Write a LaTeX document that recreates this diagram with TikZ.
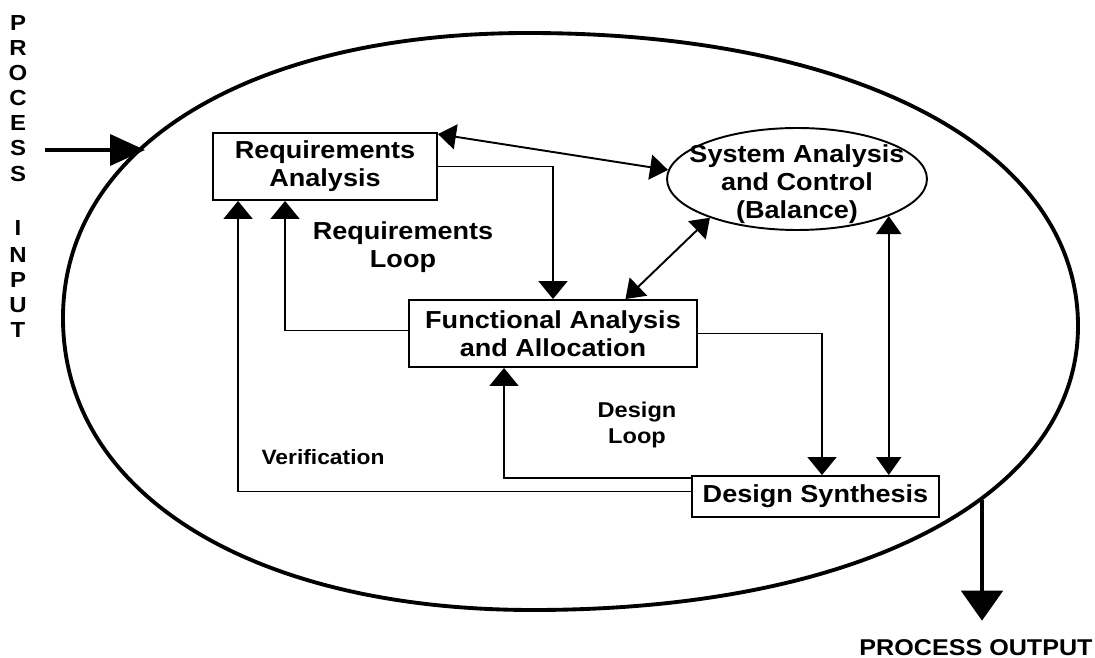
\documentclass[tikz,border=0pt]{standalone}
\usepackage{fontspec}
\setmainfont{Liberation Sans}[FakeStretch=1.1]
\usetikzlibrary{calc, positioning, shapes.geometric, arrows.meta}

\begin{document}
\begin{tikzpicture}[x=0.02cm, y=-0.02cm,
  box/.style={draw, line width=1.1pt, inner sep=0pt, align=center,
    font=\fontsize{14}{16}\selectfont\bfseries},
  lbl/.style={align=center, font=\fontsize{14}{16}\selectfont\bfseries},
  arr/.style={line width=1.1pt, -{Triangle[length=0.36cm,width=0.58cm]}},
  dbl/.style={line width=1.1pt,
    {Triangle[length=0.36cm,width=0.5cm]}-{Triangle[length=0.36cm,width=0.5cm]}}]
\useasboundingbox (0,0) rectangle (1095,658);

% outer process boundary
\draw[line width=2.2pt] (63,318) .. controls (63,147) and (249,33) .. (528,33)
  .. controls (858,33) and (1078,150) .. (1078,326)
  .. controls (1078,496) and (860,610) .. (533,610)
  .. controls (251,610) and (63,493) .. cycle;

\node[box, minimum width=4.48cm, minimum height=1.34cm] (req) at (325,166.5) {Requirements\\Analysis};
\node[box, minimum width=5.76cm, minimum height=1.34cm] (func) at (553,333.5) {Functional Analysis\\and Allocation};
\node[box, minimum width=4.94cm, minimum height=0.82cm] (syn) at (815.5,496.5) {Design Synthesis};
\node[draw, ellipse, line width=1.1pt, minimum width=5.2cm, minimum height=2.04cm,
  label={[lbl, yshift=-0.1cm]center:{System Analysis\\and Control\\(Balance)}}] (sac) at (797,179) {};

\node[lbl] (reqloop) at (403,247) {Requirements\\Loop};
\node[lbl, font=\fontsize{12.2}{15}\selectfont\bfseries] (desloop) at (637,425) {Design\\Loop};
\node[lbl, font=\fontsize{11.8}{15}\selectfont\bfseries] (verif) at (323,457) {Verification};

% loops
\draw[arr] (req.east) -| (func.north);
\draw[arr] ([yshift=0.06cm]func.west) -| ([xshift=1.46cm]req.south west);
\draw[arr] (func.east) -| ([xshift=0.13cm]syn.north);
\draw[arr] ([yshift=-0.05cm]syn.north west) -| ([xshift=-0.98cm]func.south);
\draw[arr] ([yshift=0.1cm]syn.west) -| ([xshift=0.52cm]req.south west);

% balance links
\draw[dbl] ([yshift=-0.04cm]req.north east) -- (sac.176);
\draw[dbl] (sac.204) -- ($(func.north)!0.5!(func.north east)$);
\draw[dbl] (sac.-22) -- (sac.-22 |- syn.north);

% input and output
\foreach \ch/\y [count=\i] in {P/23,R/48,O/73,C/98,E/123,S/148,S/174,I/228,N/255,P/280,U/305,T/330}
  \node[font=\fontsize{12.4}{14}\selectfont\bfseries] (in-\i) at (18,\y) {\ch};
\coordinate (inTail) at (45,150);
\coordinate (inTip) at (145,150);
\draw[line width=2.2pt, -{Triangle[length=0.7cm,width=0.62cm]}] (inTail) -- (inTip);

\node[font=\fontsize{13}{14}\selectfont\bfseries] (pout) at (976,648) {PROCESS OUTPUT};
\coordinate (outTop) at (982,500);
\draw[line width=2.8pt, -{Triangle[length=0.6cm,width=0.82cm]}] (outTop) -- ([yshift=0.26cm]pout.north -| outTop);
\end{tikzpicture}
\end{document}
